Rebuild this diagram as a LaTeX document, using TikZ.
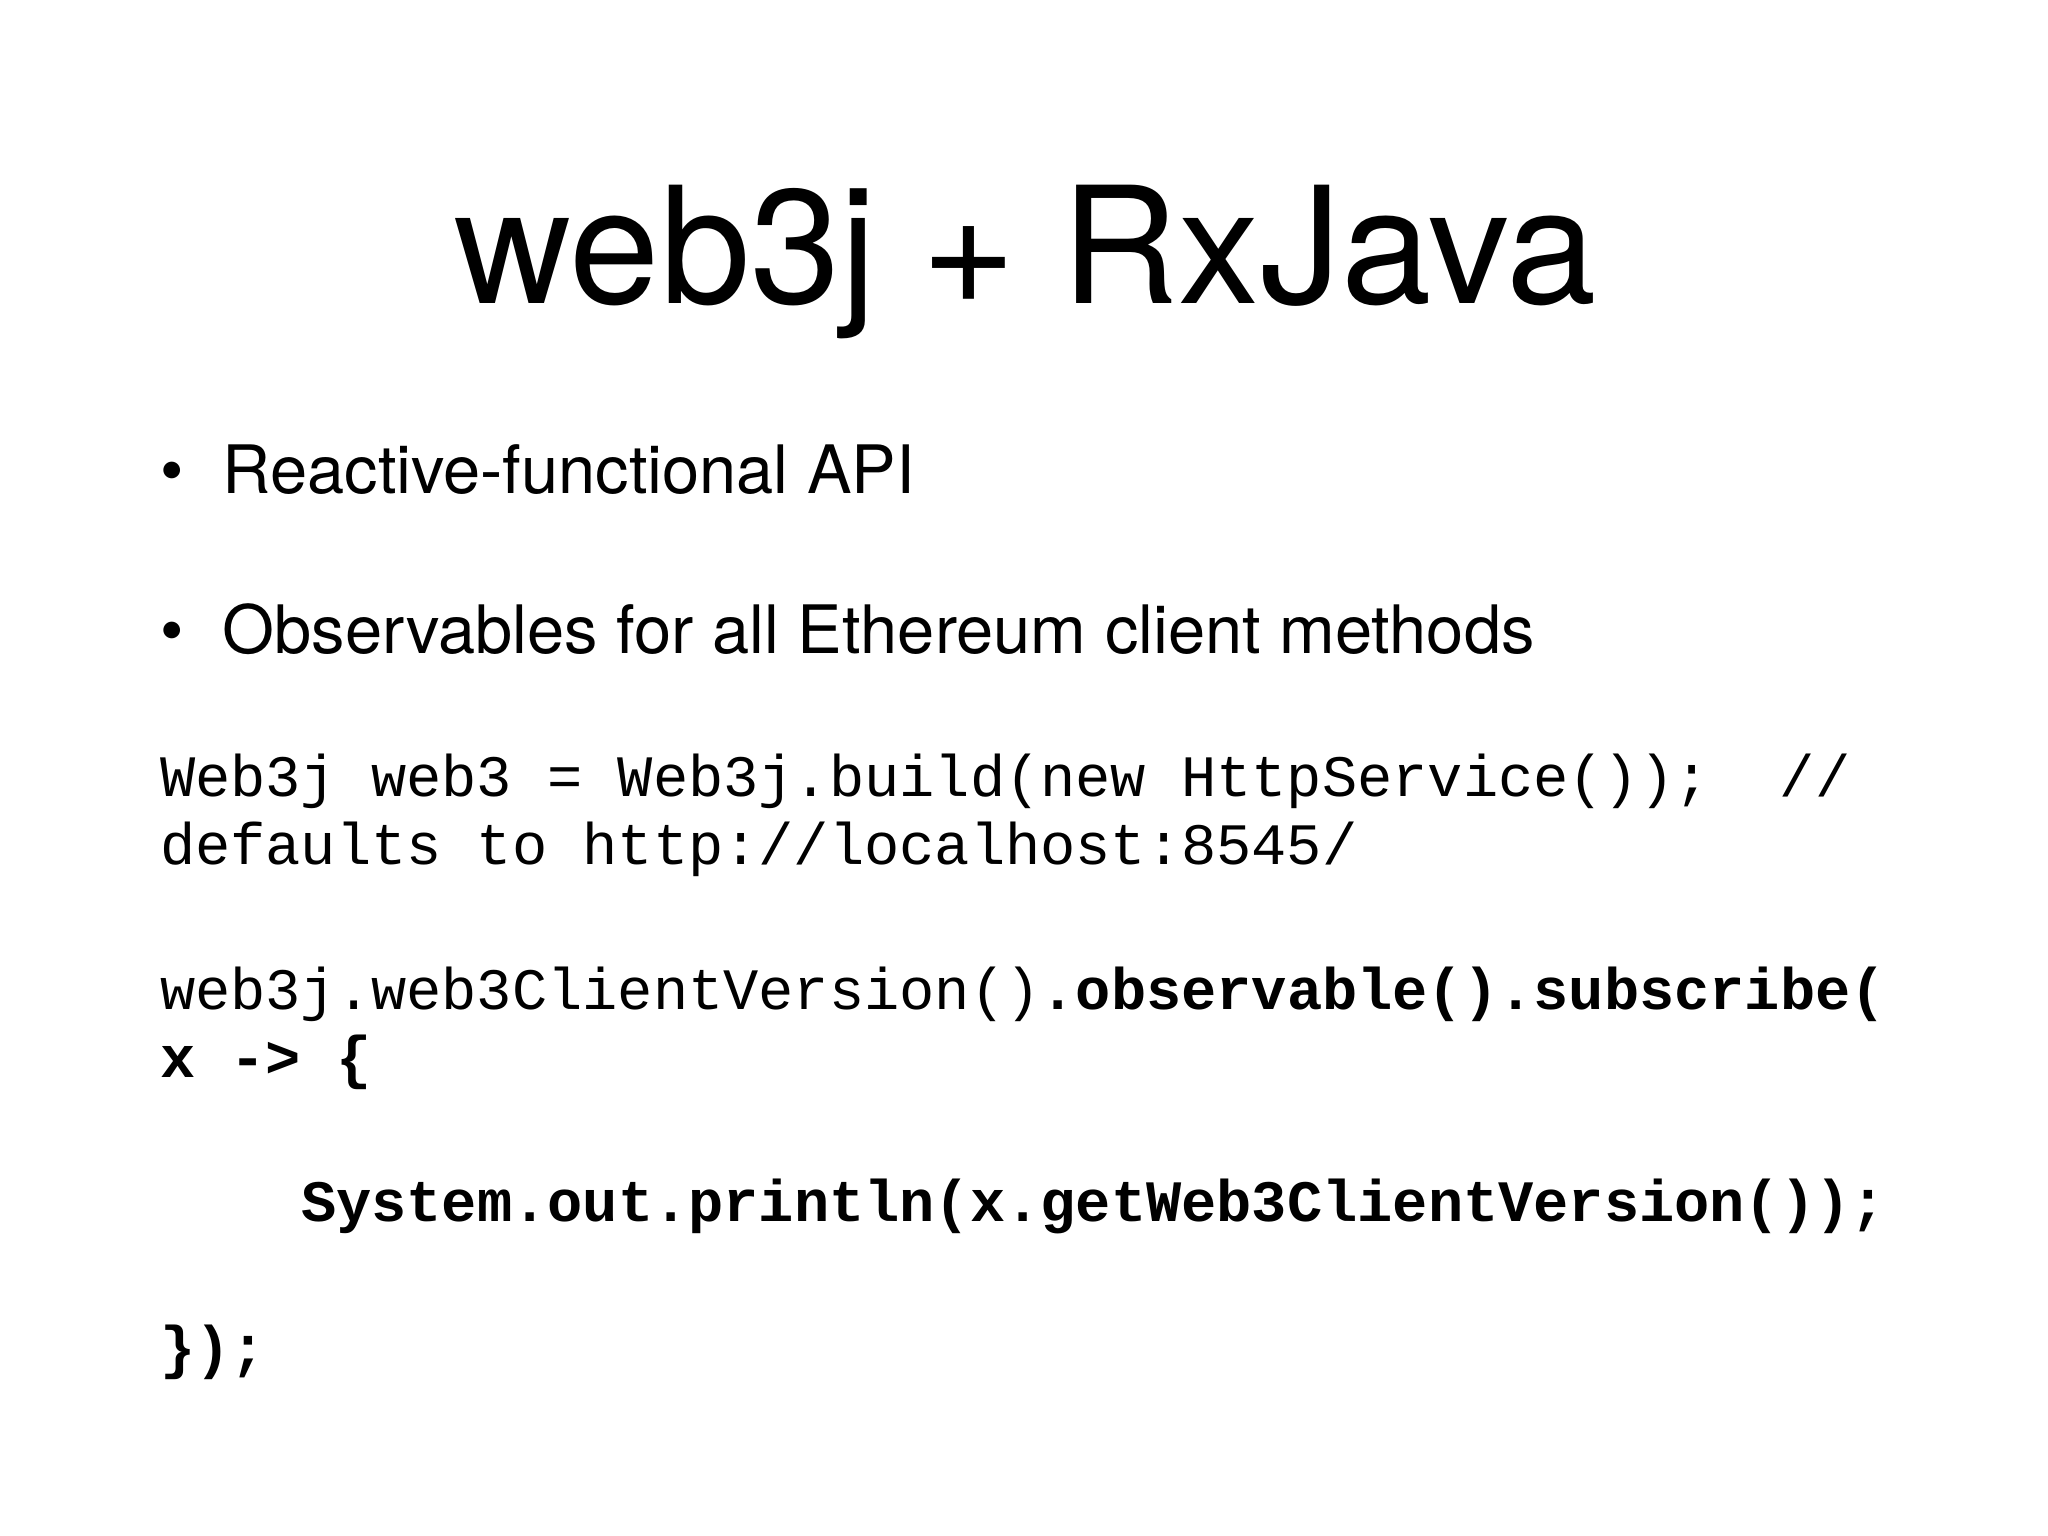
\documentclass[tikz,border=0pt]{standalone}
\usepackage{fontspec}
\setmainfont{TeX Gyre Heros}
\setmonofont{Liberation Mono}
\begin{document}
\begin{tikzpicture}[x=0.01306cm,y=-0.01306cm,
  txt/.style={anchor=base west,inner sep=0pt},
  bul/.style={txt,font=\fontsize{19}{23}\selectfont},
  code/.style={txt,font=\fontsize{16.7}{20}\ttfamily}]
\useasboundingbox (0,0) rectangle (1568,1176);
\node[anchor=base,inner sep=0pt,font=\fontsize{46.2}{50}\selectfont] (title) at (785,232) {web3j + RxJava};
\node[bul] (b1d) at (122,378) {•};
\node[bul] (b1) at (170,378) {Reactive-functional API};
\node[bul] (b2d) at (122,500) {•};
\node[bul] (b2) at (170,500) {Observables for all Ethereum client methods};
\node[code] (c1) at (122,610) {Web3j web3 = Web3j.build(new HttpService());\ \ //};
\node[code] (c2) at (122,662) {defaults to http://localhost:8545/};
\node[code] (c3) at (122,773) {web3j.web3ClientVersion()\textbf{.observable().subscribe(}};
\node[code] (c4) at (122,825) {\textbf{x -> \{}};
\node[code] (c5) at (230,935) {\textbf{System.out.println(x.getWeb3ClientVersion());}};
\node[code] (c6) at (122,1047) {\textbf{\});}};
\end{tikzpicture}
\end{document}
